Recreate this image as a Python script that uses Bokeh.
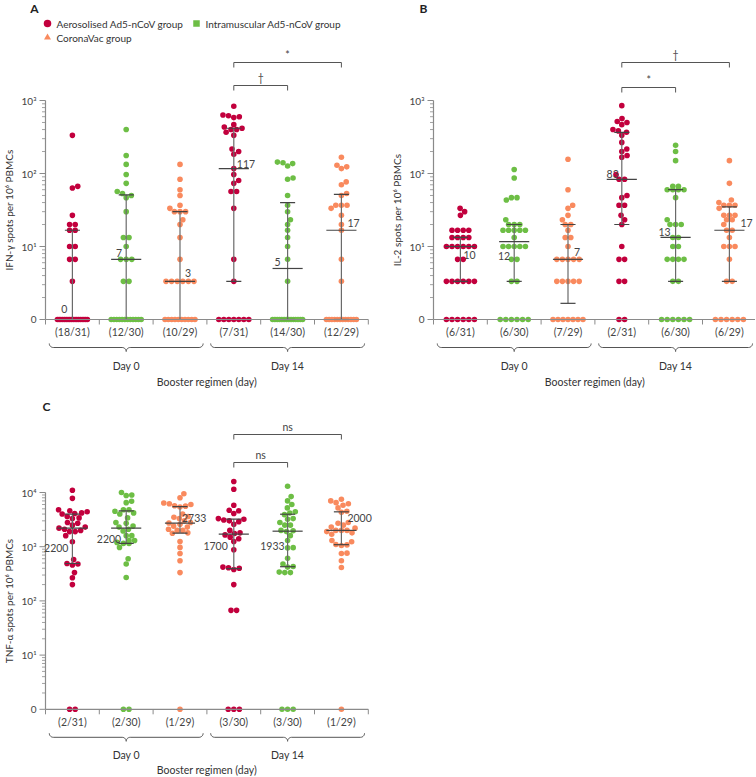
import numpy as np
from bokeh.plotting import figure
from bokeh.layouts import column, row
from bokeh.embed import file_html
from bokeh.resources import INLINE
from bokeh.core.properties import value

# ---------------- data ----------------
group_names = ["Aerosolised Ad5-nCoV group", "Intramuscular Ad5-nCoV group", "CoronaVac group"]
day_labels = ["Day 0", "Day 14"]
x_title = "Booster regimen (day)"

# Panel A: IFN-gamma spots per 10^6 PBMCs (0 = no response)
ifn_aero_d0 = [333.3, 66.7, 63.3, 26.7, 20, 20, 16.7, 16.7, 10, 10, 6.67, 6.67, 3.33] + [0] * 18
ifn_im_d0 = [400, 176.7, 133.3, 96.7, 73.3, 56.7, 53.3, 50, 46.7, 30, 13.3, 13.3, 10,
             6.67, 6.67, 6.67, 3.33, 3.33] + [0] * 12
ifn_cv_d0 = [133.3, 83.3, 60, 50, 36.7, 33.3, 30, 30, 30, 23.3, 20, 13.3, 6.67,
             3.33, 3.33, 3.33, 3.33, 3.33, 3.33] + [0] * 10
ifn_aero_d14 = [833.3, 633.3, 616.7, 600, 583.3, 466.7, 433.3, 416.7, 400, 400, 366.7, 333.3,
                216.7, 200, 183.3, 116.7, 96.7, 80, 73.3, 56.7, 56.7, 33.3, 6.67, 3.33] + [0] * 7
ifn_im_d14 = [143.3, 140, 136.7, 126.7, 86.7, 83.3, 50, 36.7, 30, 23.3, 20, 16.7, 13.3, 10,
              6.67, 3.33] + [0] * 14
ifn_cv_d14 = [166.7, 130, 123.3, 116.7, 76.7, 70, 53.3, 50, 36.7, 36.7, 36.7, 33.3, 26.7, 20,
              16.7, 6.67, 3.33] + [0] * 12
ifn_fracs = ["(18/31)", "(12/30)", "(10/29)", "(7/31)", "(14/30)", "(12/29)"]
ifn_medians = ["0", "7", "3", "117", "5", "17"]

# Panel B: IL-2
il2_aero_d0 = [33.3, 30, 26.7] + [16.7] * 4 + [13.3] * 4 + [10] * 6 + [6.67] * 2 + [3.33] * 6 + [0] * 6
il2_im_d0 = [113.3, 86.7, 46.7, 46.7, 43.3, 23.3] + [20] * 3 + [16.7] * 5 + [13.3] + [10] * 5 + \
            [6.67] * 2 + [3.33] * 2 + [0] * 6
il2_cv_d0 = [156.7, 60, 36.7, 33.3, 26.7, 23.3, 20, 20, 16.7, 13.3, 13.3, 10] + [6.67] * 5 + \
            [3.33] * 5 + [0] * 7
il2_aero_d14 = [850, 566.7, 516.7, 500, 466.7, 400, 383.3, 366.7, 333.3, 266.7, 216.7, 200, 176.7,
                166.7, 96.7, 83.3, 83.3, 50, 46.7, 36.7, 36.7, 26.7, 23.3, 20, 10, 6.67, 6.67,
                3.33, 3.33] + [0] * 2
il2_im_d14 = [243.3, 200, 150, 66.7, 66.7, 60, 60, 60, 60, 46.7, 23.3, 20, 20, 20, 13.3, 13.3,
              10, 10, 6.67, 6.67, 6.67, 6.67, 3.33, 3.33] + [0] * 6
il2_cv_d14 = [150, 73.3, 43.3, 40, 36.7, 36.7, 36.7, 33.3, 26.7, 26.7, 26.7, 23.3, 23.3, 20, 16.7,
              16.7, 13.3, 10, 10, 10, 6.67, 3.33, 3.33] + [0] * 6
il2_fracs = ["(6/31)", "(6/30)", "(7/29)", "(2/31)", "(6/30)", "(6/29)"]
il2_medians = ["10", "12", "7", "83", "13", "17"]

# Panel C: TNF-alpha
tnf_aero_d0 = [11000, 7800, 4800, 4600, 4400, 4200, 4100, 4000, 3600, 3400, 3300, 2800, 2700, 2500,
               2300, 2200, 2100, 2000, 1900, 1900, 1600, 1233, 580, 490, 480, 460, 333, 267, 200] + [0] * 2
tnf_im_d0 = [10000, 9000, 8800, 6900, 6500, 4800, 4800, 4500, 4200, 4000, 3400, 2800, 2700, 2400,
             2300, 2100, 1950, 1600, 1600, 1300, 1300, 1200, 1150, 1150, 970, 600, 480, 270] + [0] * 2
tnf_cv_d0 = [9500, 8000, 6400, 6200, 6000, 5700, 5600, 5400, 4000, 3600, 3500, 3300, 3000, 2800,
             2733, 2600, 2400, 2300, 2100, 2000, 2000, 1800, 1770, 1250, 970, 750, 550, 333] + [0]
tnf_aero_d14 = [16000, 11500, 5800, 4700, 4600, 4100, 3300, 3200, 3100, 3000, 2900, 2600, 2000,
                1800, 1750, 1650, 1500, 1400, 1250, 880, 420, 410, 400, 380, 200, 67, 67] + [0] * 3
tnf_im_d14 = [13000, 8400, 7000, 6000, 5200, 4400, 4200, 3900, 3300, 3200, 2800, 2500, 2500, 2000,
              1967, 1900, 1600, 1300, 960, 950, 610, 480, 430, 420, 340, 333, 333] + [0] * 3
tnf_cv_d14 = [7500, 7000, 6500, 6200, 5800, 5200, 4500, 4300, 2800, 2700, 2500, 2300, 2200, 2000,
              2000, 2000, 1900, 1800, 1700, 1300, 1230, 1100, 1080, 1050, 760, 750, 550, 414] + [0]
tnf_fracs = ["(2/31)", "(2/30)", "(1/29)", "(3/30)", "(3/30)", "(1/29)"]
tnf_medians = ["2200", "2200", "2733", "1700", "1933", "2000"]

# ---------------- styles ----------------
COLORS = ["#C2003D", "#6DBE45", "#F98A5E"]
FONT = "Lato"
TXT = "#333333"
AX = "#8a8a8a"
PX_UNIT = 53.8      # pixels per category
AXIS_PX = 45        # pixels from figure left to y axis
DOT = 5.6
SUP = {1: "¹", 2: "²", 3: "³", 4: "⁴"}


def swarm(vals, px_dec, d=DOT, wmax=30.0):
    vals = np.asarray(vals, dtype=float)
    ys = np.log10(np.maximum(vals, 1.0)) * px_dec
    n = len(vals)
    xs = np.full(n, np.nan)
    placed = []

    def collisions(cx, cy):
        c = 0
        for j in placed:
            if (cx - xs[j]) ** 2 + (cy - ys[j]) ** 2 < (d * 0.9) ** 2:
                c += 1
        return c

    uniq, counts = np.unique(vals, return_counts=True)
    for k in np.argsort(-counts, kind="stable"):
        if counts[k] < 2:
            continue
        idx = np.where(vals == uniq[k])[0]
        m = len(idx)
        s = min(d, wmax / (m - 1))
        base = (np.arange(m) - (m - 1) / 2.0) * s
        best = None
        for shift in [0.0, d / 2, -d / 2, d, -d]:
            cand = base + shift
            c = sum(collisions(cx, ys[idx[0]]) for cx in cand)
            if best is None or c < best[0]:
                best = (c, cand)
            if c == 0:
                break
        xs[idx] = best[1]
        placed.extend(idx.tolist())
    singles = [i for i in range(n) if np.isnan(xs[i])]
    for i in sorted(singles, key=lambda t: ys[t]):
        cands = [0.0]
        for j in placed:
            dy = ys[i] - ys[j]
            if abs(dy) < d:
                dx = np.sqrt(d * d - dy * dy)
                cands += [xs[j] + dx + 1e-6, xs[j] - dx - 1e-6]
        cands.sort(key=abs)
        for c in cands:
            if all((c - xs[j]) ** 2 + (ys[i] - ys[j]) ** 2 >= d * d - 1e-6 for j in placed):
                xs[i] = c
                break
        placed.append(i)
    return xs / PX_UNIT


def brace_path(xl, xr, top, r, px_dec):
    xc = (xl + xr) / 2.0
    mid = top + r
    pts = []

    def arc(cx, cy, a0, a1):
        for a in np.linspace(np.radians(a0), np.radians(a1), 8):
            pts.append((cx + r * np.cos(a) / PX_UNIT, cy + r * np.sin(a)))
    rr = r / PX_UNIT
    arc(xl + rr, top, 180, 90)
    arc(xc - rr, mid + r, -90, 0)
    arc(xc + rr, mid + r, 180, 270)
    arc(xr - rr, top, 90, 0)
    return [q[0] for q in pts], [10 ** (-q[1] / px_dec) for q in pts]


def make_panel(letter, groups, fracs, med_labels, med_offsets, ylabel, top_dec, px_dec,
               frame_h, top_px, width, brackets, letter_pos, below, legend=False):
    y_end_log = top_dec + top_px / px_dec
    y_start_log = y_end_log - frame_h / px_dec
    x_start = -0.5 - AXIS_PX / PX_UNIT
    x_end = x_start + width / PX_UNIT
    p = figure(width=width, height=frame_h, x_range=(x_start, x_end),
               y_range=(10 ** y_start_log, 10 ** y_end_log), y_axis_type="log",
               x_axis_location=None, y_axis_location=None, toolbar_location=None,
               output_backend="svg", title=None, min_border=0)
    p.outline_line_color = None
    p.grid.grid_line_color = None
    p.background_fill_color = "white"

    def xpx(px):  # pixels from figure left -> data x
        return x_start + px / PX_UNIT

    def ypx(px):  # pixels from figure top -> data y
        return 10 ** (y_end_log - px / px_dec)

    def above(px):
        return 10 ** (top_dec + px / px_dec)

    def under(px):
        return 10 ** (-px / px_dec)

    def txt(xs, ys, texts, size="10px", color=TXT, align="center", **kw):
        p.text(x=xs, y=ys, text=texts, text_font=value(FONT), text_font_size=size,
               text_color=color, text_align=align, text_baseline="middle", **kw)

    # ---- y axis (log, with 0 at the bottom) ----
    ax = -0.5
    majors = [10.0 ** k for k in range(0, top_dec + 1)]
    minors = [m * 10.0 ** k for k in range(0, top_dec) for m in range(2, 10)]
    p.segment(x0=[ax], y0=[1], x1=[ax], y1=[10 ** top_dec], line_color=AX, line_width=1.2)
    p.segment(x0=[ax - 6 / PX_UNIT] * len(majors), y0=majors, x1=[ax] * len(majors), y1=majors,
              line_color=AX, line_width=1)
    p.segment(x0=[ax - 3.5 / PX_UNIT] * len(minors), y0=minors, x1=[ax] * len(minors), y1=minors,
              line_color=AX, line_width=0.8)
    tick_labels = ["0"] + ["10" + SUP[k] for k in range(1, top_dec + 1)]
    txt([ax - 9 / PX_UNIT] * len(majors), majors, tick_labels, color="#444444", align="right")
    txt([ax - 37 / PX_UNIT], [10 ** (top_dec / 2.0)], [ylabel], angle=np.pi / 2)

    centers = list(range(6))
    # ---- points ----
    for i, vals in enumerate(groups):
        offs = swarm(vals, px_dec)
        xs = [centers[i] + o for o in offs]
        ys = [max(v, 1.0) for v in vals]
        p.scatter(xs, ys, size=DOT, marker="circle", fill_color=COLORS[i % 3], line_color=None)

    # ---- median + IQR ----
    for i, vals in enumerate(groups):
        q1, med, q3 = np.percentile(np.asarray(vals, float), [25, 50, 75], method="weibull")
        q1p, medp, q3p = max(q1, 1.0), max(med, 1.0), max(q3, 1.0)
        c = centers[i]
        p.segment(x0=[c], y0=[q1p], x1=[c], y1=[q3p], line_color="#6a6a6a", line_width=1.2)
        p.segment(x0=[c - 0.14, c - 0.14], y0=[q1p, q3p], x1=[c + 0.14, c + 0.14], y1=[q1p, q3p],
                  line_color="#444444", line_width=1.2)
        p.segment(x0=[c - 0.28], y0=[medp], x1=[c + 0.28], y1=[medp], line_color="#444444",
                  line_width=1.2)
        dx, dy = med_offsets[i]
        txt([c + dx / PX_UNIT], [medp * 10 ** (dy / px_dec)], [med_labels[i]], size="10.5px",
            color="#444444", align="left" if dx > 0 else "right")

    # ---- x axis line, ticks, labels, braces ----
    edges = [e - 0.5 for e in range(7)]
    p.segment(x0=[-0.5], y0=[1], x1=[5.5], y1=[1], line_color=AX, line_width=1.2)
    p.segment(x0=edges, y0=[1] * 7, x1=edges, y1=[under(5)] * 7, line_color=AX, line_width=1)
    lab_px, brace_top, day_px, title_px = below
    txt(centers, [under(lab_px)] * 6, fracs, size="10.5px", color="#444444")
    for k, (xl, xr) in enumerate([(-0.43, 2.43), (2.57, 5.43)]):
        bx, by = brace_path(xl, xr, brace_top, 4, px_dec)
        p.line(bx, by, line_color="#555555", line_width=1)
        txt([(xl + xr) / 2], [under(day_px)], [day_labels[k]], size="10.5px")
    txt([2.5], [under(title_px)], [x_title], size="10.5px")

    # ---- significance brackets ----
    for g0, g1, lab, h in brackets:
        p.multi_line(xs=[[g0, g0, g1, g1]], ys=[[above(h - 5), above(h), above(h), above(h - 5)]],
                     line_color="#555555", line_width=1)
        txt([(g0 + g1) / 2], [above(h + 8)], [lab], size="10.5px", color="#444444")

    # ---- panel letter ----
    lx, ly = letter_pos
    p.text(x=[xpx(lx)], y=[ypx(ly)], text=[letter], text_font=value(FONT), text_font_size="12px",
           text_font_style="bold", text_color="#222222", text_align="center", text_baseline="middle")

    # ---- legend ----
    if legend:
        entries = [(47, 23, "circle", 7.5, COLORS[0], group_names[0]),
                   (196, 23, "square", 6.5, COLORS[1], group_names[1]),
                   (47, 37, "triangle", 7, COLORS[2], group_names[2])]
        for lxp, lyp, mk, sz, col, name in entries:
            p.scatter([xpx(lxp)], [ypx(lyp)], marker=mk, size=sz, fill_color=col, line_color=None)
            txt([xpx(lxp + 9)], [ypx(lyp)], [name], size="10px", align="left")
    return p


pA = make_panel("A", [ifn_aero_d0, ifn_im_d0, ifn_cv_d0, ifn_aero_d14, ifn_im_d14, ifn_cv_d14],
                ifn_fracs, ifn_medians,
                [(-5, 10.5), (-4, 6.5), (5, 8), (3, 5), (-7, 6), (6, 7)],
                "IFN-γ spots per 10⁶ PBMCs", 3, 73.0, 398, 100, 388,
                [(3, 5, "*", 38), (3, 4, "†", 15)], (34, 8), (12, 24, 46, 62.5), legend=True)
pB = make_panel("B", [il2_aero_d0, il2_im_d0, il2_cv_d0, il2_aero_d14, il2_im_d14, il2_cv_d14],
                il2_fracs, il2_medians,
                [(3, -8), (-4, -14), (6, 7), (-3, 5.5), (-5, 5.5), (11, 7.5)],
                "IL-2 spots per 10⁶ PBMCs", 3, 73.0, 398, 100, 367,
                [(3, 5, "†", 38), (3, 4, "*", 13)], (35, 8), (12, 24, 46, 62.5))
pC = make_panel("C", [tnf_aero_d0, tnf_im_d0, tnf_cv_d0, tnf_aero_d14, tnf_im_d14, tnf_cv_d14],
                tnf_fracs, tnf_medians,
                [(-4, -20), (-5, -10.5), (2, 5), (-6, -11.5), (-3, -14.5), (6, 12)],
                "TNF-α spots per 10⁶ PBMCs", 4, 54.2, 378, 94, 388,
                [(3, 5, "ns", 58), (3, 4, "ns", 30)], (46, 8), (12.3, 24, 45.5, 61))

layout = column(row(pA, pB), pC)
open("out.html", "w").write(file_html(layout, INLINE))
